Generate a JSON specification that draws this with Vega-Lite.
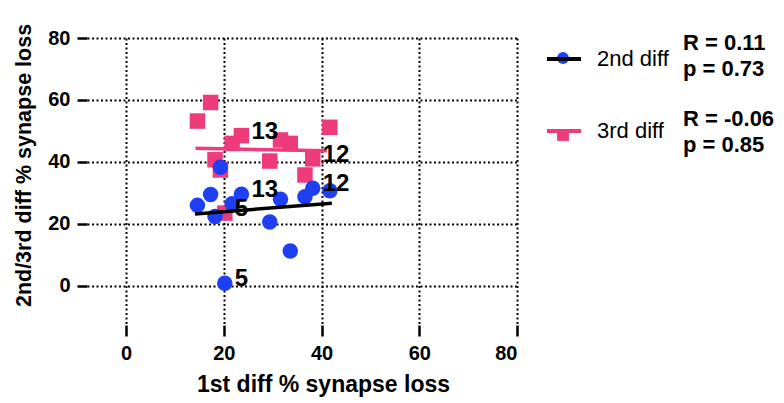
{
  "$schema": "https://vega.github.io/schema/vega-lite/v6.json",
  "width": 430,
  "height": 287,
  "autosize": "none",
  "padding": {"left": 87, "top": 38, "right": 267, "bottom": 78},
  "background": "white",
  "config": {
    "font": "Liberation Sans",
    "view": {"stroke": null},
    "axis": {
      "domain": false,
      "grid": true,
      "gridColor": "black",
      "gridDash": [2, 2.5],
      "gridWidth": 2,
      "gridOpacity": 1,
      "ticks": true,
      "tickColor": "black",
      "tickWidth": 2.5,
      "labelFontSize": 20,
      "labelFontWeight": "bold",
      "labelColor": "black",
      "titleFontSize": 23,
      "titleFontWeight": "bold",
      "titleColor": "black"
    },
    "legend": {"labelColor": "black", "labelFont": "Liberation Sans"}
  },
  "datasets": {
    "points": [
      {"series": "3rd diff", "x": 14.6, "y": 53.2, "label": null},
      {"series": "3rd diff", "x": 17.3, "y": 59.2, "label": null},
      {"series": "3rd diff", "x": 18.2, "y": 40.7, "label": null},
      {"series": "3rd diff", "x": 19.3, "y": 37.4, "label": null},
      {"series": "3rd diff", "x": 20.2, "y": 23.5, "label": "5"},
      {"series": "3rd diff", "x": 21.7, "y": 46.0, "label": null},
      {"series": "3rd diff", "x": 23.6, "y": 48.5, "label": "13"},
      {"series": "3rd diff", "x": 29.4, "y": 40.3, "label": null},
      {"series": "3rd diff", "x": 31.6, "y": 47.1, "label": null},
      {"series": "3rd diff", "x": 33.6, "y": 46.0, "label": null},
      {"series": "3rd diff", "x": 36.6, "y": 35.8, "label": null},
      {"series": "3rd diff", "x": 38.2, "y": 41.0, "label": "12"},
      {"series": "3rd diff", "x": 41.7, "y": 51.2, "label": null},
      {"series": "2nd diff", "x": 14.6, "y": 26.0, "label": null},
      {"series": "2nd diff", "x": 17.3, "y": 29.5, "label": null},
      {"series": "2nd diff", "x": 18.2, "y": 22.4, "label": null},
      {"series": "2nd diff", "x": 19.3, "y": 38.3, "label": null},
      {"series": "2nd diff", "x": 20.2, "y": 0.9, "label": "5"},
      {"series": "2nd diff", "x": 21.7, "y": 26.5, "label": null},
      {"series": "2nd diff", "x": 23.6, "y": 29.6, "label": "13"},
      {"series": "2nd diff", "x": 29.4, "y": 20.6, "label": null},
      {"series": "2nd diff", "x": 31.6, "y": 28.0, "label": null},
      {"series": "2nd diff", "x": 33.6, "y": 11.3, "label": null},
      {"series": "2nd diff", "x": 36.6, "y": 28.8, "label": null},
      {"series": "2nd diff", "x": 38.2, "y": 31.5, "label": "12"},
      {"series": "2nd diff", "x": 41.7, "y": 30.7, "label": null}
    ],
    "fits": [
      {"fit": "2nd diff", "stat": "R = 0.11|p = 0.73", "x": 14.1, "y": 23.2},
      {"fit": "2nd diff", "stat": "R = 0.11|p = 0.73", "x": 42.1, "y": 26.7},
      {"fit": "3rd diff", "stat": "R = -0.06|p = 0.85", "x": 14.2, "y": 44.4},
      {"fit": "3rd diff", "stat": "R = -0.06|p = 0.85", "x": 41.1, "y": 43.6}
    ]
  },
  "layer": [
    {
      "data": {"name": "points"},
      "mark": {"type": "point", "filled": true, "opacity": 1, "size": 240, "strokeWidth": 0},
      "encoding": {
        "x": {
          "field": "x",
          "type": "quantitative",
          "scale": {"domain": [-8, 80], "nice": false, "zero": false},
          "axis": {
            "title": "1st diff % synapse loss",
            "values": [0, 20, 40, 60, 80],
            "tickSize": 11,
            "labelPadding": 7,
            "titlePadding": 10,
            "titleX": 236
          }
        },
        "y": {
          "field": "y",
          "type": "quantitative",
          "scale": {"domain": [-12.6, 80], "nice": false, "zero": false},
          "axis": {
            "title": "2nd/3rd diff % synapse loss",
            "titleFontSize": 21.5,
            "values": [0, 20, 40, 60, 80],
            "tickSize": 10,
            "labelPadding": 7,
            "titlePadding": 12,
            "titleY": 127
          }
        },
        "color": {
          "field": "series",
          "type": "nominal",
          "scale": {"domain": ["2nd diff", "3rd diff"], "range": ["#1f3ff5", "#ee3b7c"]},
          "legend": {
            "title": null, "orient": "none", "legendX": 469, "legendY": 13,
            "labelExpr": "''", "symbolSize": 140, "rowPadding": 64, "padding": 0
          }
        },
        "shape": {
          "field": "series",
          "type": "nominal",
          "scale": {"domain": ["2nd diff", "3rd diff"], "range": ["circle", "square"]},
          "legend": {
            "title": null, "orient": "none", "legendX": 469, "legendY": 13,
            "labelExpr": "''", "symbolSize": 140, "rowPadding": 64, "padding": 0
          }
        }
      }
    },
    {
      "data": {"name": "fits"},
      "mark": {"type": "line", "strokeWidth": 3.5},
      "encoding": {
        "x": {"field": "x", "type": "quantitative"},
        "y": {"field": "y", "type": "quantitative"},
        "stroke": {
          "field": "fit",
          "type": "nominal",
          "scale": {"range": ["black", "#ee3b7c"]},
          "legend": {
            "title": null, "orient": "none", "legendX": 458, "legendY": 2,
            "symbolType": "stroke", "symbolSize": 1156, "symbolStrokeWidth": 4,
            "labelFontSize": 22, "labelFontWeight": "normal", "labelOffset": 14,
            "rowPadding": 42, "padding": 0
          }
        },
        "opacity": {
          "field": "stat",
          "type": "ordinal",
          "scale": {"domain": ["R = 0.11|p = 0.73", "R = -0.06|p = 0.85"], "range": [1, 1]},
          "legend": {
            "title": null, "orient": "none", "legendX": 574, "legendY": -6,
            "symbolSize": 0, "symbolOpacity": 0, "labelOffset": 0,
            "labelFontSize": 22, "labelFontWeight": "bold",
            "labelExpr": "split(datum.label, '|')",
            "rowPadding": 28, "padding": 0,
            "encode": {"labels": {"update": {"lineHeight": {"value": 26}}}}
          }
        }
      }
    },
    {
      "data": {"name": "points"},
      "transform": [{"filter": "datum.label != null"}],
      "mark": {
        "type": "text", "align": "left", "baseline": "middle",
        "dx": 10, "dy": -4, "fontSize": 24, "fontWeight": "bold", "color": "black"
      },
      "encoding": {
        "x": {"field": "x", "type": "quantitative"},
        "y": {"field": "y", "type": "quantitative"},
        "text": {"field": "label"}
      }
    },
    {
      "mark": {"type": "rule", "color": "black", "strokeWidth": 2.5},
      "encoding": {
        "x": {"datum": -8},
        "y": {"datum": 0},
        "y2": {"datum": 80}
      }
    },
    {
      "mark": {"type": "rule", "color": "black", "strokeWidth": 2.5},
      "encoding": {
        "x": {"datum": 0},
        "x2": {"datum": 80},
        "y": {"datum": -12.6}
      }
    }
  ]
}
